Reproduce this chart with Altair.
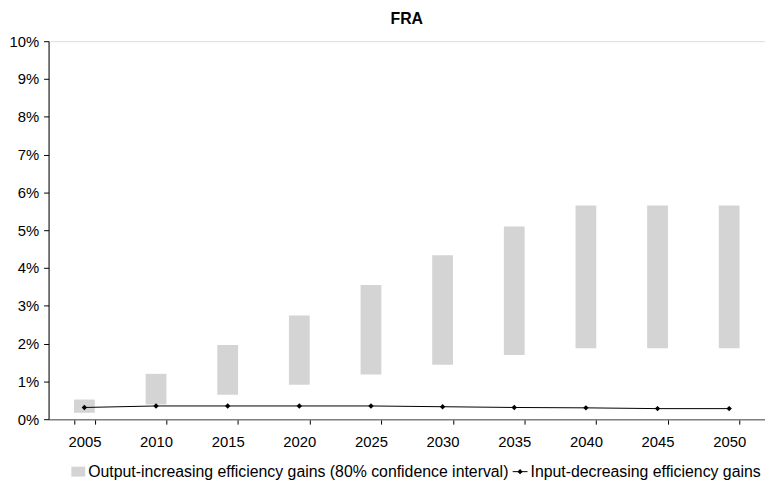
import altair as alt
import pandas as pd

years = ["2005", "2010", "2015", "2020", "2025", "2030", "2035", "2040", "2045", "2050"]
ci_low = [0.17, 0.39, 0.65, 0.91, 1.18, 1.44, 1.70, 1.88, 1.88, 1.88]
ci_high = [0.52, 1.20, 1.96, 2.74, 3.55, 4.34, 5.10, 5.65, 5.65, 5.65]
input_dec = [0.31, 0.35, 0.35, 0.35, 0.35, 0.33, 0.31, 0.30, 0.28, 0.28]
y_ticks = [0.00, 0.01, 0.02, 0.03, 0.04, 0.05, 0.06, 0.07, 0.08, 0.09, 0.10]

df = pd.DataFrame({
    "year": years,
    "low": [v / 100 for v in ci_low],
    "high": [v / 100 for v in ci_high],
    "inp": [v / 100 for v in input_dec],
})

W, H = 724, 382
FONT = "Liberation Sans"
FS = 15

xaxis = alt.Axis(labelAngle=0, tickBand="extent", domainColor="#808080",
                 tickColor="#000000", tickSize=5, labelFontSize=FS,
                 labelFont=FONT, labelColor="#000000", labelPadding=11,
                 domainWidth=1.5)
xscale = alt.Scale(paddingInner=0.71, paddingOuter=0.355)
yscale = alt.Scale(domain=[0, 0.1], nice=False, zero=True)
yaxis = alt.Axis(format=".0%", values=y_ticks, tickCount=40, grid=False,
                 domainColor="#000000", tickColor="#000000", tickSize=5,
                 labelFontSize=FS, labelFont=FONT, labelColor="#000000",
                 labelPadding=5, labelOverlap=False, labelFlush=False)

def xe():
    return alt.X("year:N", title=None, sort=years, scale=xscale, axis=xaxis)

bars = alt.Chart(df).mark_bar(color="#d4d4d4").encode(
    x=xe(),
    y=alt.Y("low:Q", title=None, scale=yscale, axis=yaxis),
    y2="high:Q",
)

line = alt.Chart(df).mark_line(color="#000000", strokeWidth=1).encode(
    x=xe(),
    y=alt.Y("inp:Q", title=None, scale=yscale, axis=yaxis),
)
pts = alt.Chart(df).mark_point(shape="diamond", filled=True, color="#000000",
                               size=30, opacity=1).encode(
    x=xe(),
    y=alt.Y("inp:Q", title=None, scale=yscale, axis=yaxis),
)

legend_labels = ["Output-increasing efficiency gains (80% confidence interval)",
                 "Input-decreasing efficiency gains"]
leg_df = pd.DataFrame({"label": legend_labels})

LY = H + 53
LFS = 16
leg_sq = alt.Chart(leg_df.iloc[[0]]).mark_rect(color="#d4d4d4").encode(
    x=alt.value(23), x2=alt.value(37), y=alt.value(LY - 5), y2=alt.value(LY + 5))
leg_t1 = alt.Chart(leg_df.iloc[[0]]).mark_text(
    align="left", baseline="middle", fontSize=LFS, font=FONT, color="#000000").encode(
    x=alt.value(40), y=alt.value(LY), text="label:N")
leg_ln = alt.Chart(leg_df.iloc[[1]]).mark_rule(color="#000000", strokeWidth=1).encode(
    x=alt.value(469), x2=alt.value(484), y=alt.value(LY))
leg_pt = alt.Chart(leg_df.iloc[[1]]).mark_point(
    shape="diamond", filled=True, color="#000000", size=30, opacity=1).encode(
    x=alt.value(476.5), y=alt.value(LY))
leg_t2 = alt.Chart(leg_df.iloc[[1]]).mark_text(
    align="left", baseline="middle", fontSize=LFS, font=FONT, color="#000000").encode(
    x=alt.value(487), y=alt.value(LY), text="label:N")

chart = alt.layer(bars, line, pts, leg_sq, leg_t1, leg_ln, leg_pt, leg_t2).properties(
    width=W, height=H,
    title=alt.TitleParams("FRA", font=FONT, fontSize=16, fontWeight="bold",
                          color="#000000", anchor="middle", offset=7),
    autosize=alt.AutoSizeParams(type="none"),
    padding={"left": 41, "top": 31, "right": 0, "bottom": 68},
).configure_view(stroke=None).configure(background="#ffffff").configure_axis(
    labelOverlap=False)

chart.save("out.html", embed_options={"renderer": "svg", "actions": False})
